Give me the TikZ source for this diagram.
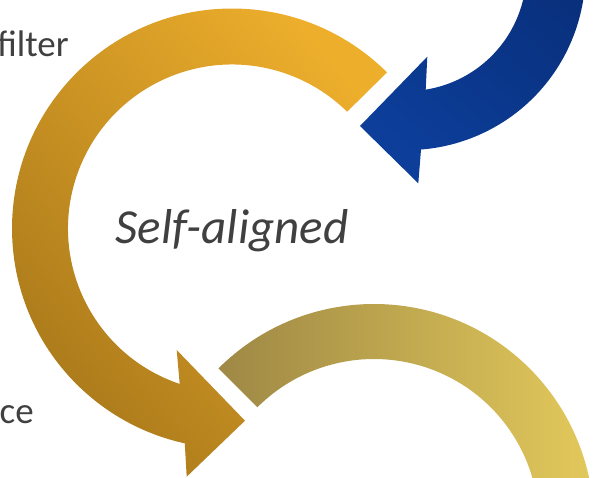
\documentclass[tikz,border=0pt]{standalone}
\usepackage{fontspec}
\setmainfont{Carlito}
\usetikzlibrary{calc}
\definecolor{txtgray}{HTML}{404040}
\definecolor{orTop}{HTML}{EDAE2C}
\definecolor{orBot}{HTML}{A8781A}
\definecolor{blTop}{HTML}{082C74}
\definecolor{blBot}{HTML}{0C3E9A}
\definecolor{olLeft}{HTML}{9E8845}
\definecolor{olRight}{HTML}{E6CC5C}
\tikzset{
  lbl/.style={text=txtgray, inner sep=0pt, font=\fontsize{37}{40}\selectfont},
  title/.style={text=txtgray, inner sep=0pt, font=\fontsize{49}{54}\selectfont\itshape},
}
\begin{document}
\begin{tikzpicture}[x=1pt,y=-1pt]
\path[use as bounding box] (0,0) rectangle (600,478);
\clip (0,0) rectangle (600,478);
% centres of the rings
\coordinate (O1) at (232,228.5);
\coordinate (O2) at (407,-28.4);
\coordinate (O3) at (374,524);
% orange circular arrow
\shade[top color=orTop, bottom color=orBot, shading angle=-50]
  ($(O1)+(-45.2:220)$) arc[start angle=-45.2, end angle=-257.6, radius=220]
  -- (186.7,476.7) -- (245,420.7) -- (176.7,350)
  -- ($(O1)+(-251.4:164)$) arc[start angle=-251.4, end angle=-45.4, radius=164]
  -- cycle;
% blue circular arrow
\shade[top color=blTop, bottom color=blBot, shading angle=-40]
  ($(O2)+(-30:178.5)$) arc[start angle=-30, end angle=85.5, radius=178.5]
  -- (418.3,183.3) -- (360,126) -- (427.3,56.7)
  -- ($(O2)+(81:119.5)$) arc[start angle=81, end angle=-30, radius=119.5]
  -- cycle;
% olive arc
\shade[left color=olLeft, right color=olRight]
  ($(O3)+(-135:220)$) arc[start angle=-135, end angle=20, radius=220]
  -- ($(O3)+(20:165)$) arc[start angle=20, end angle=-135, radius=165]
  -- cycle;
% texts
\node[lbl, anchor=base east] (filter) at (69,57) {filter};
\node[lbl, anchor=base east] (ce) at (34,423) {ce};
\node[title, anchor=base] (self) at (232,244) {Self-aligned};
\end{tikzpicture}
\end{document}
